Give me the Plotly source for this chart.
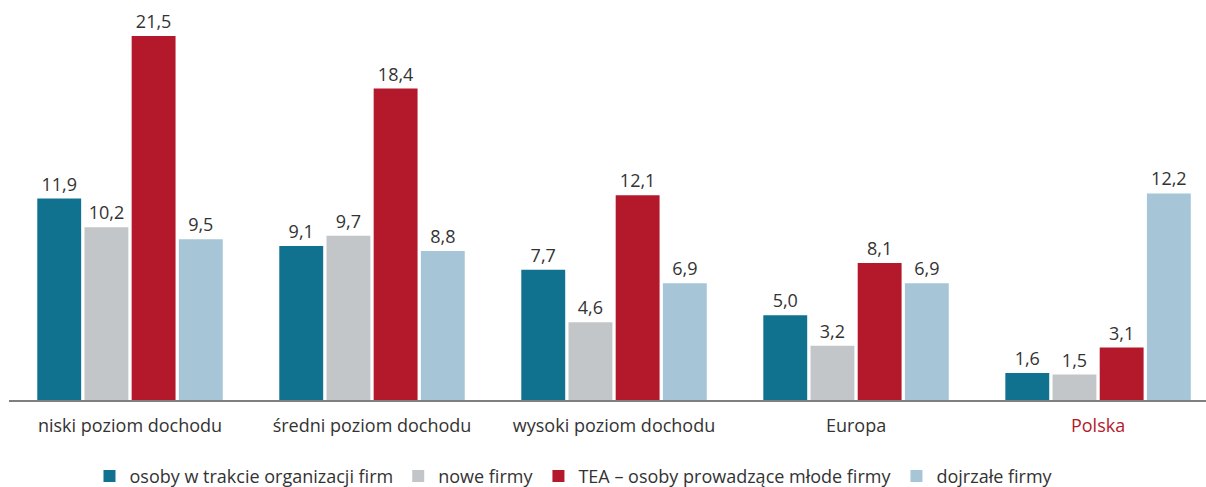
import plotly.graph_objects as go

categories = ["niski poziom dochodu", "średni poziom dochodu", "wysoki poziom dochodu", "Europa", "Polska"]
tick_labels = ["niski poziom dochodu", "średni poziom dochodu", "wysoki poziom dochodu", "Europa",
               "<span style='color:#b5192b'>Polska</span>"]
series_names = ["osoby w trakcie organizacji firm", "nowe firmy", "TEA – osoby prowadzące młode firmy", "dojrzałe firmy"]
vals_org = [11.9, 9.1, 7.7, 5.0, 1.6]
vals_new = [10.2, 9.7, 4.6, 3.2, 1.5]
vals_tea = [21.5, 18.4, 12.1, 8.1, 3.1]
vals_mature = [9.5, 8.8, 6.9, 6.9, 12.2]
colors = ["#10728f", "#c3c6c9", "#b3192b", "#a6c6d8"]

FONT = "Open Sans"
fig = go.Figure()
for name, vals, col in zip(series_names, [vals_org, vals_new, vals_tea, vals_mature], colors):
    fig.add_trace(go.Bar(
        x=categories, y=vals, name=name, marker=dict(color=col, line=dict(width=0)),
        text=[f"{v:.1f}".replace(".", ",") for v in vals], textposition="outside",
        textfont=dict(size=18, color="#333333", family=FONT), cliponaxis=False,
    ))

fig.update_layout(
    width=1206, height=487,
    margin=dict(l=9, r=0, t=0, b=87),
    paper_bgcolor="white", plot_bgcolor="white",
    barmode="group", bargap=0.22, bargroupgap=0.07,
    font=dict(family=FONT, size=18, color="#333333"),
    showlegend=True,
    legend=dict(orientation="h", x=0.472, xanchor="center", yref="container", y=0.022, yanchor="middle",
                font=dict(size=18, color="#333333", family=FONT), itemwidth=30, traceorder="normal"),
    uniformtext=dict(mode=False),
)
fig.update_xaxes(
    categoryorder="array", categoryarray=categories,
    tickvals=categories, ticktext=tick_labels,
    range=[-0.5, 4.446], showline=True, linecolor="#7f7f7f", linewidth=2,
    ticks="", ticklabelstandoff=8, showgrid=False, tickfont=dict(size=18, color="#333333", family=FONT),
)
fig.update_yaxes(range=[0, 23.63], visible=False, showgrid=False, zeroline=False)

fig.write_html("out.html")
